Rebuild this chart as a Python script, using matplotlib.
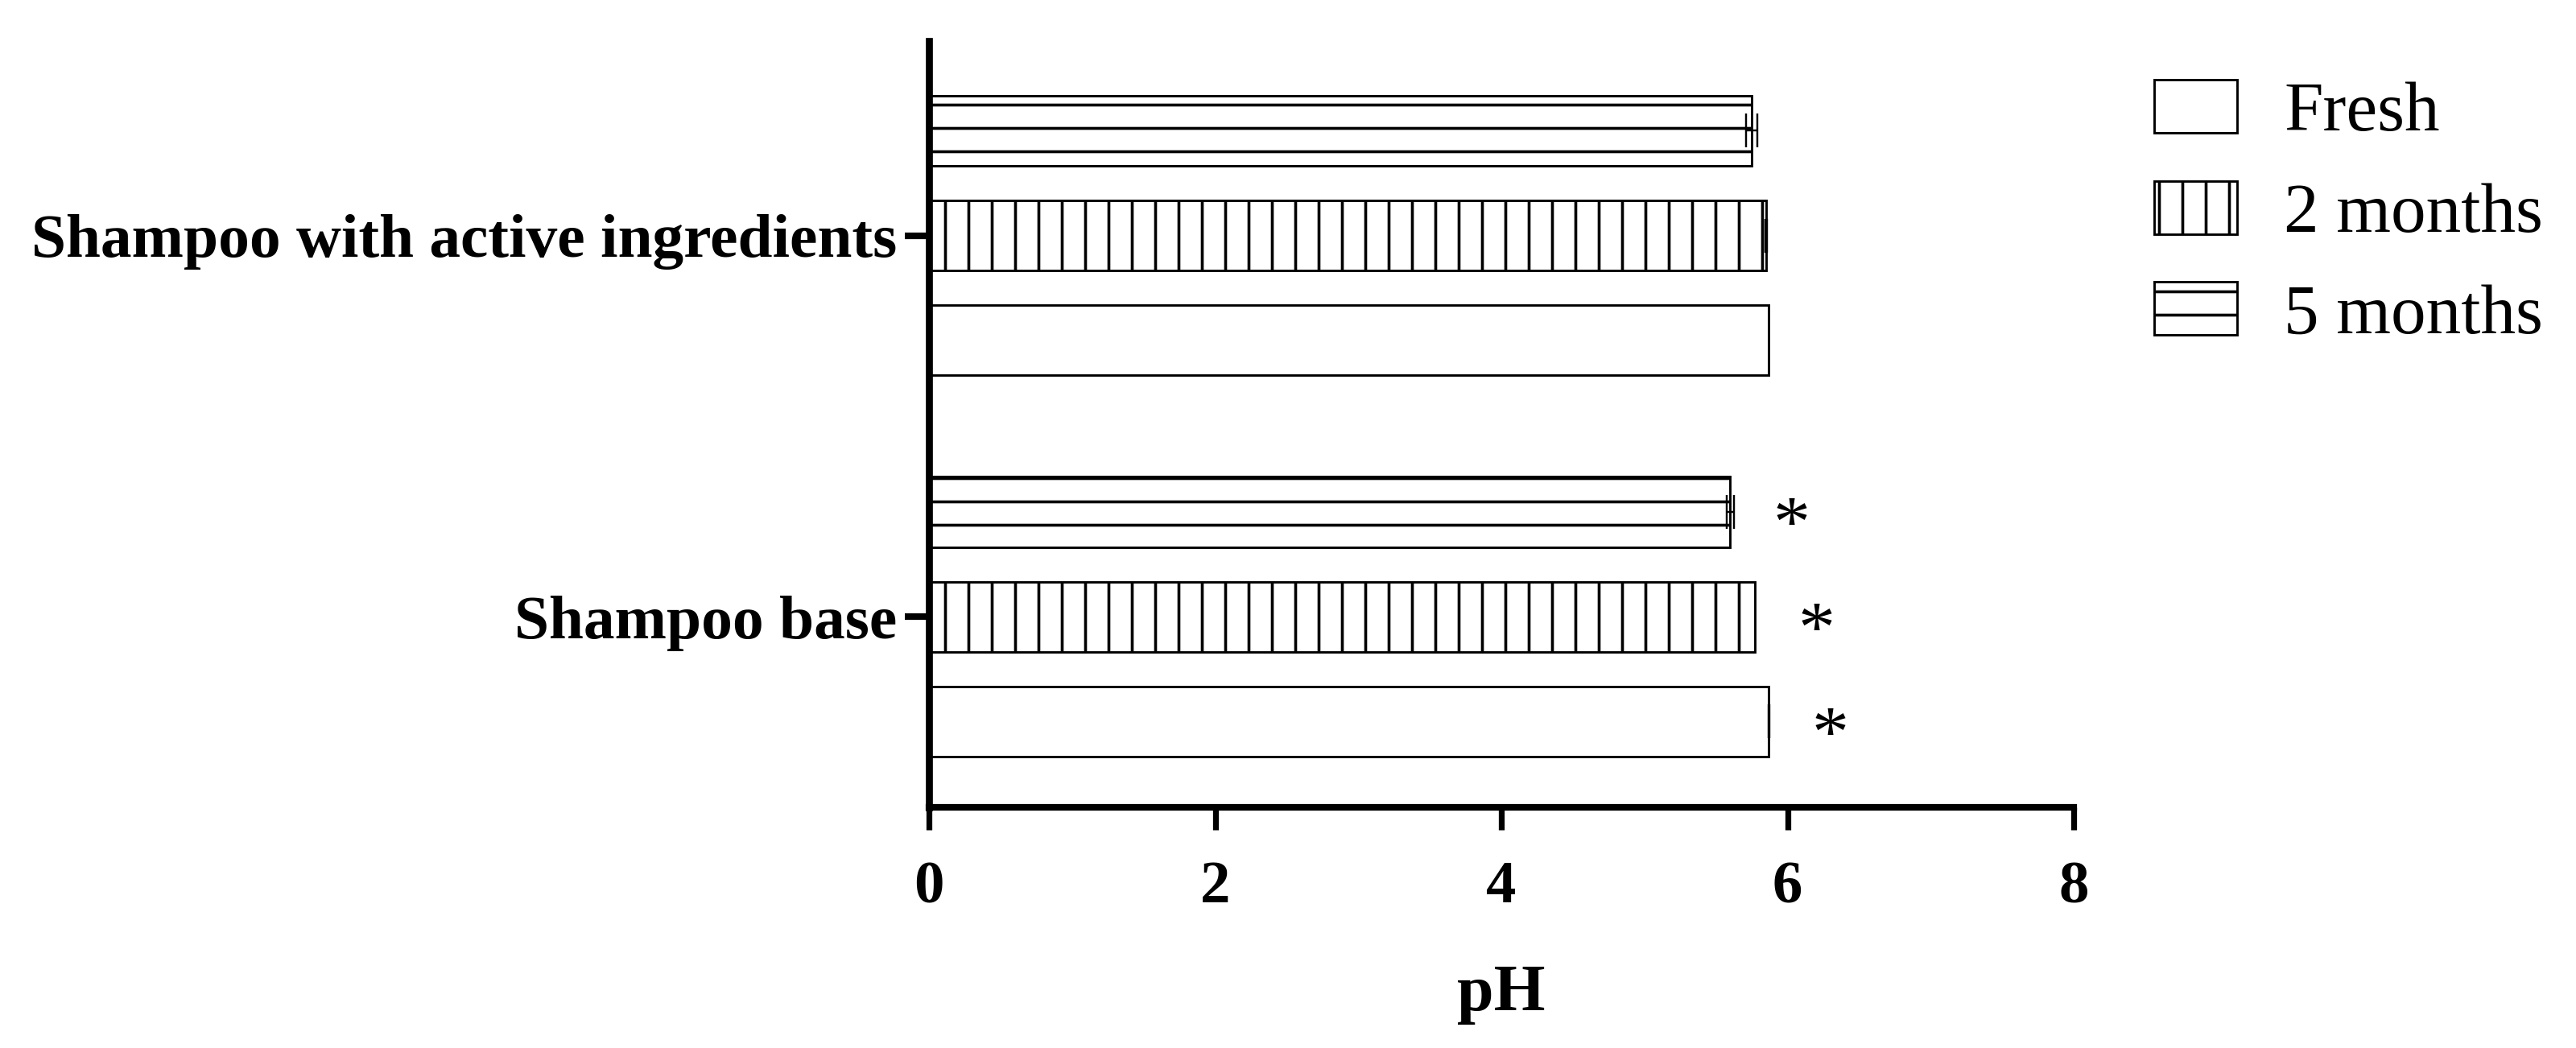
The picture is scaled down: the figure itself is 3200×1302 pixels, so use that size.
import matplotlib.pyplot as plt
import numpy as np

# data (groups bottom -> top)
groups = ["Shampoo base", "Shampoo with active ingredients"]
series = ["Fresh", "2 months", "5 months"]
fresh = [5.87, 5.87]
two_months = [5.77, 5.85]
five_months = [5.60, 5.75]
fresh_err = [0.005, 0.0]
two_months_err = [0.0, 0.005]
five_months_err = [0.025, 0.04]
signif = [True, False]  # asterisk next to each bar of the group

plt.rcParams['font.family'] = ['Liberation Serif', 'DejaVu Serif']
plt.rcParams['hatch.linewidth'] = 1.5
plt.rcParams['hatch.color'] = 'black'

DPI = 174
fig = plt.figure(figsize=(3200 / DPI, 1302 / DPI), dpi=DPI)
ax = fig.add_axes([1154 / 3200, 299 / 1302, 1422 / 3200, 952 / 1302])

y = np.arange(len(groups))
h = 0.184
off = 0.275
values = [fresh, two_months, five_months]
errs = [fresh_err, two_months_err, five_months_err]
hatches = ['', '|', '-']

for i in range(3):
    pos = y + (i - 1) * off
    ax.barh(pos, values[i], height=h, color='white', edgecolor='black',
            linewidth=1.2, hatch=hatches[i], label=series[i])
    e = np.array(errs[i])
    m = e > 0
    if m.any():
        ax.errorbar(np.array(values[i])[m], pos[m], xerr=e[m], fmt='none',
                    ecolor='black', elinewidth=1.0, capsize=8.7, capthick=1.0)
    for j in range(len(groups)):
        if signif[j]:
            ax.annotate('*', xy=(values[i][j] + 0.43, pos[j]), xytext=(0, -18),
                        textcoords='offset points', ha='center', va='baseline',
                        fontsize=38)

ax.set_xlim(0, 8)
ax.set_ylim(-0.50, 1.51)
ax.set_xticks([0, 2, 4, 6, 8])
ax.set_yticks(y)
ax.set_yticklabels(groups, fontsize=32, fontweight='bold')
for lab in ax.get_xticklabels():
    lab.set_fontsize(31)
    lab.set_fontweight('bold')
ax.set_xlabel('pH', fontsize=34, fontweight='bold', labelpad=25)

ax.spines['top'].set_visible(False)
ax.spines['right'].set_visible(False)
ax.spines['left'].set_linewidth(3.6)
ax.spines['bottom'].set_linewidth(3.4)
ax.tick_params(axis='x', length=11.5, width=3.0, pad=16)
ax.tick_params(axis='y', length=12.4, width=3.4, pad=4)

fig.legend(loc='upper left', bbox_to_anchor=(0.83625, 0.924), frameon=False,
           fontsize=36, handlelength=1.18, handleheight=0.79,
           handletextpad=0.67, labelspacing=0.5, borderpad=0, borderaxespad=0)

fig.savefig('out.png', dpi=DPI)
